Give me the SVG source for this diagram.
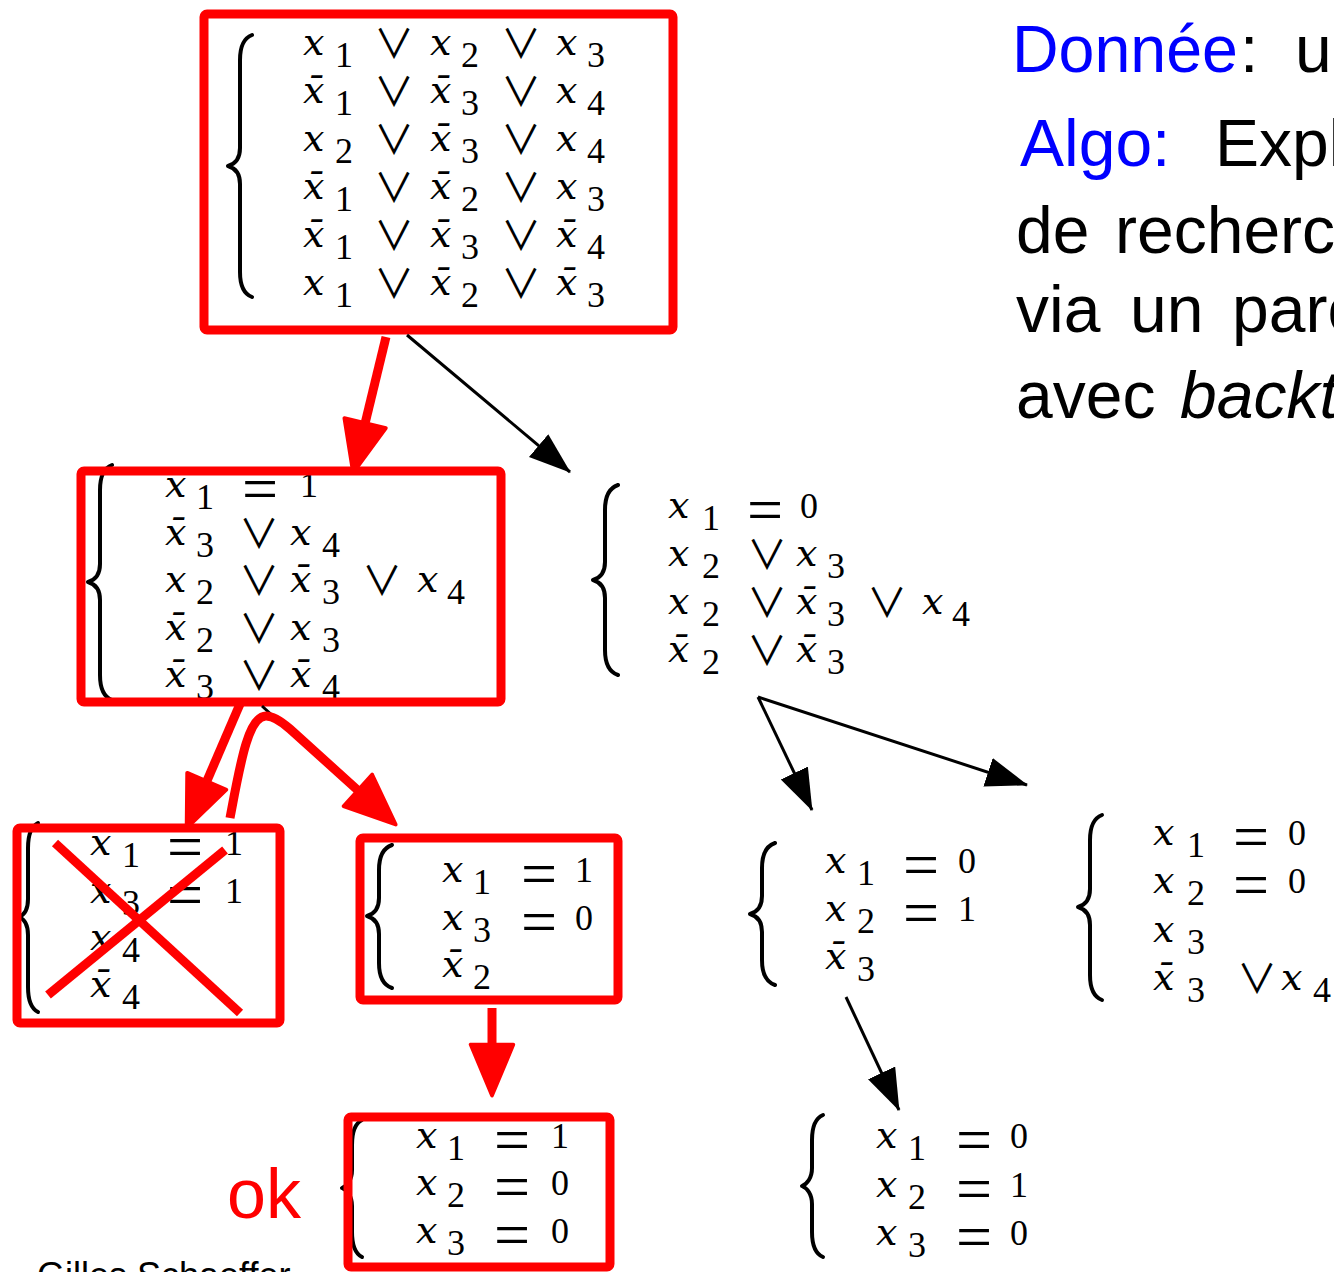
<svg xmlns="http://www.w3.org/2000/svg" width="1334" height="1272" viewBox="0 0 1334 1272">
<defs>
<style>
.v{font-family:"DejaVu Serif","Liberation Serif",serif;font-style:italic;font-size:38px;fill:#000}
.s{font-family:"Liberation Serif","DejaVu Serif",serif;font-size:36px;fill:#000}
.o{font-family:"Noto Sans CJK JP","DejaVu Sans",sans-serif;font-size:40px;fill:#000}
.e{font-family:"Liberation Serif","DejaVu Serif",serif;font-size:64px;fill:#000}
.brace{fill:none;stroke:#000;stroke-width:4;stroke-linecap:round;stroke-linejoin:round}
.box{fill:none;stroke:#ff0000;stroke-width:9;stroke-linejoin:round}
.cross{stroke:#ff0000;stroke-width:9}
.rarrow{fill:none;stroke:#ff0000;stroke-width:9}
.barrow{fill:none;stroke:#000;stroke-width:3}
.txt{font-family:"Liberation Sans","DejaVu Sans",sans-serif;font-size:66px;fill:#000}
.blue{fill:#0000ff}
.ok{font-family:"Liberation Sans","DejaVu Sans",sans-serif;font-size:70px;fill:#ff0000}
.author{font-family:"Liberation Sans","DejaVu Sans",sans-serif;font-size:36px;fill:#000}
</style>
<marker id="redHead" markerUnits="userSpaceOnUse" markerWidth="60" markerHeight="52" refX="22" refY="25" orient="auto" viewBox="-3 -3 62 56">
<path d="M0,2 L55,25 L0,48 Z" fill="#ff0000" stroke="#ff0000" stroke-width="4" stroke-linejoin="round"/>
</marker>
<marker id="blackHead" markerUnits="userSpaceOnUse" markerWidth="44" markerHeight="32" refX="41" refY="15" orient="auto" viewBox="0 0 44 32">
<path d="M0,0 L42,15 L0,30 Z" fill="#000"/>
</marker>
</defs>
<rect width="1334" height="1272" fill="#fff"/>

<!-- explanatory text, right column -->
<g id="caption">
<text class="txt" y="72"><tspan x="1012" class="blue" textLength="226" lengthAdjust="spacingAndGlyphs">Donnée</tspan><tspan x="1240">:</tspan><tspan x="1295">u</tspan></text>
<text class="txt" y="166"><tspan x="1020" class="blue">Algo:</tspan><tspan x="1215">Expl</tspan></text>
<text class="txt" y="253"><tspan x="1016">de</tspan><tspan x="1115">recherc</tspan></text>
<text class="txt" y="332"><tspan x="1016">via</tspan><tspan x="1130">un</tspan><tspan x="1232">parc</tspan></text>
<text class="txt" y="418"><tspan x="1016">avec</tspan><tspan x="1180" font-style="italic">backt</tspan></text>
</g>

<g id="author">
<text class="author" x="37" y="1288">Gilles Schaeffer</text>
</g>

<!-- root: full formula -->
<g id="nodeRoot">
<path class="brace" d="M252,35 C244,38 240,46 240,60 L240,148 C240,158 235,164 228,166 C235,168 240,174 240,184 L240,272 C240,286 244,294 252,297"/>
<text>
<tspan class="v" x="303" y="55">x</tspan><tspan class="s" x="335" y="67">1</tspan><tspan class="o" x="374" y="58">∨</tspan><tspan class="v" x="430" y="55">x</tspan><tspan class="s" x="461" y="67">2</tspan><tspan class="o" x="501" y="58">∨</tspan><tspan class="v" x="556" y="55">x</tspan><tspan class="s" x="587" y="67">3</tspan>
</text>
<text>
<tspan class="v" x="303" y="103">x̄</tspan><tspan class="s" x="335" y="115">1</tspan><tspan class="o" x="374" y="106">∨</tspan><tspan class="v" x="430" y="103">x̄</tspan><tspan class="s" x="461" y="115">3</tspan><tspan class="o" x="501" y="106">∨</tspan><tspan class="v" x="556" y="103">x</tspan><tspan class="s" x="587" y="115">4</tspan>
</text>
<text>
<tspan class="v" x="303" y="151">x</tspan><tspan class="s" x="335" y="163">2</tspan><tspan class="o" x="374" y="154">∨</tspan><tspan class="v" x="430" y="151">x̄</tspan><tspan class="s" x="461" y="163">3</tspan><tspan class="o" x="501" y="154">∨</tspan><tspan class="v" x="556" y="151">x</tspan><tspan class="s" x="587" y="163">4</tspan>
</text>
<text>
<tspan class="v" x="303" y="199">x̄</tspan><tspan class="s" x="335" y="211">1</tspan><tspan class="o" x="374" y="202">∨</tspan><tspan class="v" x="430" y="199">x̄</tspan><tspan class="s" x="461" y="211">2</tspan><tspan class="o" x="501" y="202">∨</tspan><tspan class="v" x="556" y="199">x</tspan><tspan class="s" x="587" y="211">3</tspan>
</text>
<text>
<tspan class="v" x="303" y="247">x̄</tspan><tspan class="s" x="335" y="259">1</tspan><tspan class="o" x="374" y="250">∨</tspan><tspan class="v" x="430" y="247">x̄</tspan><tspan class="s" x="461" y="259">3</tspan><tspan class="o" x="501" y="250">∨</tspan><tspan class="v" x="556" y="247">x̄</tspan><tspan class="s" x="587" y="259">4</tspan>
</text>
<text>
<tspan class="v" x="303" y="295">x</tspan><tspan class="s" x="335" y="307">1</tspan><tspan class="o" x="374" y="298">∨</tspan><tspan class="v" x="430" y="295">x̄</tspan><tspan class="s" x="461" y="307">2</tspan><tspan class="o" x="501" y="298">∨</tspan><tspan class="v" x="556" y="295">x̄</tspan><tspan class="s" x="587" y="307">3</tspan>
</text>
<rect class="box" x="204" y="14" width="469" height="316" rx="3"/>
</g>

<!-- x1 = 1 branch -->
<g id="nodeX1True">
<path class="brace" d="M112,465 C104,468 100,476 100,490 L100,564 C100,574 95,580 88,582 C95,584 100,590 100,600 L100,675 C100,689 104,697 112,700"/>
<text><tspan class="v" x="165" y="497">x</tspan><tspan class="s" x="196" y="509">1</tspan><tspan class="e" x="242" y="510">=</tspan><tspan class="s" x="300" y="497">1</tspan></text>
<text><tspan class="v" x="165" y="545">x̄</tspan><tspan class="s" x="196" y="557">3</tspan><tspan class="o" x="239" y="548">∨</tspan><tspan class="v" x="290" y="545">x</tspan><tspan class="s" x="322" y="557">4</tspan></text>
<text><tspan class="v" x="165" y="592">x</tspan><tspan class="s" x="196" y="604">2</tspan><tspan class="o" x="239" y="595">∨</tspan><tspan class="v" x="290" y="592">x̄</tspan><tspan class="s" x="322" y="604">3</tspan><tspan class="o" x="362" y="595">∨</tspan><tspan class="v" x="417" y="592">x</tspan><tspan class="s" x="447" y="604">4</tspan></text>
<text><tspan class="v" x="165" y="640">x̄</tspan><tspan class="s" x="196" y="652">2</tspan><tspan class="o" x="239" y="643">∨</tspan><tspan class="v" x="290" y="640">x</tspan><tspan class="s" x="322" y="652">3</tspan></text>
<text><tspan class="v" x="165" y="687">x̄</tspan><tspan class="s" x="196" y="699">3</tspan><tspan class="o" x="239" y="690">∨</tspan><tspan class="v" x="290" y="687">x̄</tspan><tspan class="s" x="322" y="699">4</tspan></text>
<rect class="box" x="81" y="471" width="420" height="231" rx="3"/>
</g>

<!-- x1 = 0 branch -->
<g id="nodeX1False">
<path class="brace" d="M618,485 C609,488 605,496 605,510 L605,562 C605,572 600,578 593,580 C600,582 605,588 605,598 L605,650 C605,664 609,672 618,675"/>
<text><tspan class="v" x="668" y="518">x</tspan><tspan class="s" x="702" y="530">1</tspan><tspan class="e" x="747" y="531">=</tspan><tspan class="s" x="800" y="518">0</tspan></text>
<text><tspan class="v" x="668" y="566">x</tspan><tspan class="s" x="702" y="578">2</tspan><tspan class="o" x="747" y="569">∨</tspan><tspan class="v" x="796" y="566">x</tspan><tspan class="s" x="827" y="578">3</tspan></text>
<text><tspan class="v" x="668" y="614">x</tspan><tspan class="s" x="702" y="626">2</tspan><tspan class="o" x="747" y="617">∨</tspan><tspan class="v" x="796" y="614">x̄</tspan><tspan class="s" x="827" y="626">3</tspan><tspan class="o" x="867" y="617">∨</tspan><tspan class="v" x="922" y="614">x</tspan><tspan class="s" x="952" y="626">4</tspan></text>
<text><tspan class="v" x="668" y="662">x̄</tspan><tspan class="s" x="702" y="674">2</tspan><tspan class="o" x="747" y="665">∨</tspan><tspan class="v" x="796" y="662">x̄</tspan><tspan class="s" x="827" y="674">3</tspan></text>
</g>

<!-- x1 = 1, x3 = 1 : contradiction -->
<g id="nodeConflict">
<path class="brace" d="M38,823 C32,826 28,834 28,848 L28,899 C28,909 24,915 19,917 C24,919 28,925 28,935 L28,987 C28,1001 32,1009 38,1012"/>
<text><tspan class="v" x="90" y="855">x</tspan><tspan class="s" x="122" y="867">1</tspan><tspan class="e" x="167" y="868">=</tspan><tspan class="s" x="225" y="855">1</tspan></text>
<text><tspan class="v" x="90" y="903">x</tspan><tspan class="s" x="122" y="915">3</tspan><tspan class="e" x="167" y="916">=</tspan><tspan class="s" x="225" y="903">1</tspan></text>
<text><tspan class="v" x="90" y="950">x</tspan><tspan class="s" x="122" y="962">4</tspan></text>
<text><tspan class="v" x="90" y="997">x̄</tspan><tspan class="s" x="122" y="1009">4</tspan></text>
<rect class="box" x="17" y="828" width="263" height="195" rx="3"/>
<line class="cross" x1="55" y1="843" x2="240" y2="1013"/>
<line class="cross" x1="225" y1="850" x2="48" y2="995"/>
</g>

<!-- x1 = 1, x3 = 0 -->
<g id="nodeX3False">
<path class="brace" d="M392,845 C383,848 379,856 379,870 L379,898 C379,908 374,914 367,916 C374,918 379,924 379,934 L379,963 C379,977 383,985 392,988"/>
<text><tspan class="v" x="442" y="882">x</tspan><tspan class="s" x="473" y="894">1</tspan><tspan class="e" x="521" y="895">=</tspan><tspan class="s" x="575" y="882">1</tspan></text>
<text><tspan class="v" x="442" y="930">x</tspan><tspan class="s" x="473" y="942">3</tspan><tspan class="e" x="521" y="943">=</tspan><tspan class="s" x="575" y="930">0</tspan></text>
<text><tspan class="v" x="442" y="977">x̄</tspan><tspan class="s" x="473" y="989">2</tspan></text>
<rect class="box" x="360" y="838" width="258" height="162" rx="3"/>
</g>

<!-- satisfying assignment -->
<g id="nodeSolution">
<path class="brace" d="M362,1120 C356,1123 352,1131 352,1145 L352,1170 C352,1180 347,1186 342,1188 C347,1190 352,1196 352,1206 L352,1232 C352,1246 356,1254 362,1257"/>
<text><tspan class="v" x="416" y="1148">x</tspan><tspan class="s" x="447" y="1160">1</tspan><tspan class="e" x="494" y="1161">=</tspan><tspan class="s" x="551" y="1148">1</tspan></text>
<text><tspan class="v" x="416" y="1195">x</tspan><tspan class="s" x="447" y="1207">2</tspan><tspan class="e" x="494" y="1208">=</tspan><tspan class="s" x="551" y="1195">0</tspan></text>
<text><tspan class="v" x="416" y="1243">x</tspan><tspan class="s" x="447" y="1255">3</tspan><tspan class="e" x="494" y="1256">=</tspan><tspan class="s" x="551" y="1243">0</tspan></text>
<rect class="box" x="348" y="1117" width="262" height="150" rx="3"/>
</g>

<g id="okLabel">
<text class="ok" x="227" y="1218">ok</text>
</g>

<!-- x1 = 0, x2 = 1 -->
<g id="nodeX2True">
<path class="brace" d="M775,843 C766,846 762,854 762,868 L762,896 C762,906 757,912 750,914 C757,916 762,922 762,932 L762,960 C762,974 766,982 775,985"/>
<text><tspan class="v" x="825" y="873">x</tspan><tspan class="s" x="857" y="885">1</tspan><tspan class="e" x="903" y="886">=</tspan><tspan class="s" x="958" y="873">0</tspan></text>
<text><tspan class="v" x="825" y="921">x</tspan><tspan class="s" x="857" y="933">2</tspan><tspan class="e" x="903" y="934">=</tspan><tspan class="s" x="958" y="921">1</tspan></text>
<text><tspan class="v" x="825" y="969">x̄</tspan><tspan class="s" x="857" y="981">3</tspan></text>
</g>

<!-- x1 = 0, x2 = 0 -->
<g id="nodeX2False">
<path class="brace" d="M1102,815 C1094,818 1090,826 1090,840 L1090,889 C1090,899 1085,905 1078,907 C1085,909 1090,915 1090,925 L1090,975 C1090,989 1094,997 1102,1000"/>
<text><tspan class="v" x="1153" y="845">x</tspan><tspan class="s" x="1187" y="857">1</tspan><tspan class="e" x="1233" y="858">=</tspan><tspan class="s" x="1288" y="845">0</tspan></text>
<text><tspan class="v" x="1153" y="893">x</tspan><tspan class="s" x="1187" y="905">2</tspan><tspan class="e" x="1233" y="906">=</tspan><tspan class="s" x="1288" y="893">0</tspan></text>
<text><tspan class="v" x="1153" y="942">x</tspan><tspan class="s" x="1187" y="954">3</tspan></text>
<text><tspan class="v" x="1153" y="990">x̄</tspan><tspan class="s" x="1187" y="1002">3</tspan><tspan class="o" x="1237" y="993">∨</tspan><tspan class="v" x="1281" y="990">x</tspan><tspan class="s" x="1313" y="1002">4</tspan></text>
</g>

<!-- x1 = 0, x2 = 1, x3 = 0 -->
<g id="nodeX3FalseB">
<path class="brace" d="M823,1115 C816,1118 812,1126 812,1140 L812,1168 C812,1178 807,1184 802,1186 C807,1188 812,1194 812,1204 L812,1232 C812,1246 816,1254 823,1257"/>
<text><tspan class="v" x="876" y="1148">x</tspan><tspan class="s" x="908" y="1160">1</tspan><tspan class="e" x="956" y="1161">=</tspan><tspan class="s" x="1010" y="1148">0</tspan></text>
<text><tspan class="v" x="876" y="1197">x</tspan><tspan class="s" x="908" y="1209">2</tspan><tspan class="e" x="956" y="1210">=</tspan><tspan class="s" x="1010" y="1197">1</tspan></text>
<text><tspan class="v" x="876" y="1245">x</tspan><tspan class="s" x="908" y="1257">3</tspan><tspan class="e" x="956" y="1258">=</tspan><tspan class="s" x="1010" y="1245">0</tspan></text>
</g>

<!-- search tree edges -->
<g id="connectors">
<line class="barrow" x1="407" y1="335" x2="570" y2="472" marker-end="url(#blackHead)"/>
<line class="barrow" x1="758" y1="697" x2="812" y2="810" marker-end="url(#blackHead)"/>
<line class="barrow" x1="758" y1="697" x2="1027" y2="785" marker-end="url(#blackHead)"/>
<line class="barrow" x1="846" y1="997" x2="899" y2="1110" marker-end="url(#blackHead)"/>
<line class="barrow" x1="262" y1="706" x2="275" y2="718"/>
<line class="rarrow" x1="386" y1="337" x2="360.3" y2="443" marker-end="url(#redHead)"/>
<line class="rarrow" x1="240" y1="704" x2="198.7" y2="800" marker-end="url(#redHead)"/>
<path class="rarrow" d="M230,818 C240,765 248,716 266,716 C274,716 282,722 290,729 L373,804" marker-end="url(#redHead)"/>
<line class="rarrow" x1="492" y1="1008" x2="492" y2="1065" marker-end="url(#redHead)"/>
</g>
</svg>
